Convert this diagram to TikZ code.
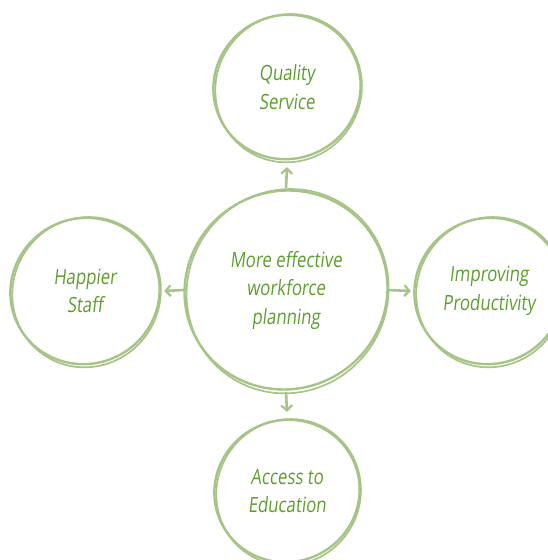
\documentclass[tikz,border=0pt]{standalone}
\usepackage{fontspec}
\newfontfamily\hand{Open Sans}[FakeStretch=0.8,FakeSlant=0.12]
\usetikzlibrary{arrows.meta}
\definecolor{ringgreen}{HTML}{A6C487}
\definecolor{textgreen}{HTML}{5C9E2C}
\tikzset{
  hub/.style={circle, minimum size=#1, inner sep=0pt, align=center,
    text=textgreen, font=\hand\fontsize{21}{28.5}\selectfont},
  ring/.style={draw=ringgreen, line width=2.4pt},
  link/.style={draw=ringgreen, line width=2.6pt,
    -{Straight Barb[length=5pt,width=11pt,line width=2.2pt]}}
}
% two slightly different loops per circle give the hand-drawn double stroke
\newcommand{\sketchring}[2]{%
  \draw[ring] (#1) ellipse [x radius=#2pt, y radius=#2pt*0.97, rotate=25];
  \draw[ring, line width=1.7pt] ([xshift=1.6pt,yshift=-1.2pt]#1) ellipse [x radius=#2pt*0.98, y radius=#2pt*1.012, rotate=-35];
}
\begin{document}
\begin{tikzpicture}[x=1pt,y=1pt]
\useasboundingbox (0,0) rectangle (548,560);
\node[hub=204pt] (core) at (286,270) {More effective\\workforce\\planning};
\node[hub=148pt] (quality) at (287,473) {Quality\\Service};
\node[hub=150pt] (staff) at (85,269) {Happier\\Staff};
\node[hub=150pt] (prod) at (489,269) {Improving\\Productivity};
\node[hub=146pt] (edu) at (287,69) {Access to\\Education};
\sketchring{core}{102}
\sketchring{quality}{74}
\sketchring{staff}{75}
\sketchring{prod}{75}
\sketchring{edu}{73}
\draw[link] (core.north) -- ([yshift=-6pt]quality.south);
\draw[link] (core.west) -- ([xshift=4pt]staff.east);
\draw[link] (core.east) -- ([xshift=-3pt]prod.west);
\draw[link] (core.south) -- ([yshift=6pt]edu.north);
\end{tikzpicture}
\end{document}
